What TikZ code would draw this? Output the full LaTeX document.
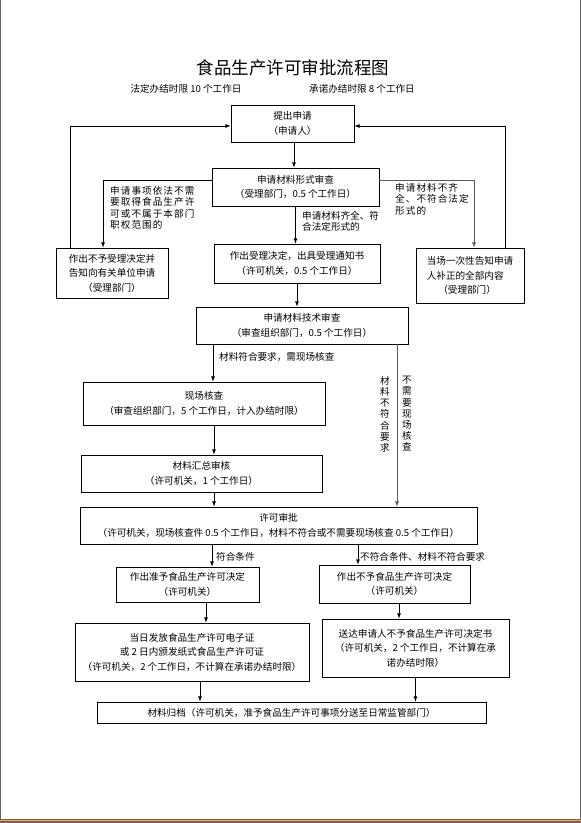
\documentclass[tikz,border=0pt]{standalone}
\usepackage{fontspec}
\setmainfont{Noto Sans CJK SC}
\usetikzlibrary{arrows,positioning,calc}

\begin{document}
\begin{tikzpicture}
  [x=1pt,y=-1pt,>=latex,
   box/.style n args={2}{draw=black, line width=0.8pt, align=center, inner sep=1pt,
     minimum width=#1, minimum height=#2, font=\fontsize{9.6}{14.5}\selectfont},
   lbl/.style={inner sep=0pt, align=left, font=\fontsize{9.6}{11.5}\selectfont},
   wlbl/.style={lbl, font=\fontsize{9.6}{11.5}\selectfont\addfontfeature{LetterSpace=11}},
   vlbl/.style={inner sep=0pt, align=center, font=\fontsize{9.6}{11.2}\selectfont}]
  \useasboundingbox (0,0) rectangle (581,823);
  % page frame
  \draw[black!60, line width=1pt] (0.5,0) -- (0.5,819) -- (580,819) -- (580,0);
  \fill[orange!70] (0,819.6) rectangle (581,821);
  \fill[blue!25!gray] (0,821) rectangle (581,823);

  \node[font=\fontsize{17.5}{20}\selectfont] (title) at (293,68) {食品生产许可审批流程图};
  \node[lbl] (sub1) at (186,89) {法定办结时限 10 个工作日};
  \node[lbl] (sub2) at (362,89) {承诺办结时限 8 个工作日};

  \node[box={123}{37}] (n1) at (292.5,123.5) {提出申请\\（申请人）};
  \node[box={167}{38}] (n2) at (295.5,187) {申请材料形式审查\\（受理部门，0.5 个工作日）};
  \node[box={112}{50}] (n3) at (112,273) {作出不予受理决定并\\告知向有关单位申请\\（受理部门）};
  \node[box={166}{39}] (n4) at (297,263.5) {作出受理决定，出具受理通知书\\（许可机关，0.5 个工作日）};
  \node[box={108}{55}, align=left] (n5) at (470,275.5) {当场一次性告知申请\\人补正的全部内容\\\hspace*{1.2em}（受理部门）};
  \node[box={212}{37}] (n6) at (302,325.5) {申请材料技术审查\\（审查组织部门，0.5 个工作日）};
  \node[box={242}{43}] (n7) at (204,403.5) {现场核查\\（审查组织部门，5 个工作日，计入办结时限）};
  \node[box={241}{37}] (n8) at (201.5,473.5) {材料汇总审核\\（许可机关，1 个工作日）};
  \node[box={397}{37}] (n9) at (278.5,525.5) {许可审批\\（许可机关，现场核查件 0.5 个工作日，材料不符合或不需要现场核查 0.5 个工作日）};
  \node[box={143}{35}] (n10) at (187.5,584.5) {作出准予食品生产许可决定\\（许可机关）};
  \node[box={151}{38}] (n11) at (394.5,584) {作出不予食品生产许可决定\\（许可机关）};
  \node[box={234}{58}] (n12) at (192,652) {当日发放食品生产许可电子证\\或 2 日内颁发纸式食品生产许可证\\（许可机关，2 个工作日，不计算在承诺办结时限）};
  \node[box={187}{58}] (n13) at (415.5,648) {送达申请人不予食品生产许可决定书\\（许可机关，2 个工作日，不计算在承\\诺办结时限）};
  \node[box={389}{21}] (n14) at (291.5,712.5) {材料归档（许可机关，准予食品生产许可事项分送至日常监管部门）};

  % branch labels
  \node[wlbl, anchor=north west] (l1) at (110,186) {申请事项依法不需\\要取得食品生产许\\可或不属于本部门\\职权范围的};
  \node[wlbl, anchor=north west] (l2) at (395,183) {申请材料不齐\\全、不符合法定\\形式的};
  \node[lbl, anchor=north west] (l3) at (302,211) {申请材料齐全、符\\合法定形式的};
  \node[lbl, anchor=west] (l4) at (219,357) {材料符合要求，需现场核查};
  \node[vlbl, anchor=north] (l5) at (385,376) {材\\料\\不\\符\\合\\要\\求};
  \node[vlbl, anchor=north] (l6) at (407,376) {不\\需\\要\\现\\场\\核\\查};
  \node[lbl, anchor=west] (l7) at (216,557) {符合条件};
  \node[lbl, anchor=west] (l8) at (360,557) {不符合条件、材料不符合要求};

  \path [->] [line width=0.8pt]
  ([xshift=1.5]n1.south) edge ([xshift=1.5]n1.south |- n2.north)
  (n2.south) edge (n2.south |- n4.north)
  (n4.south) edge (n4.south |- n6.north)
  ([xshift=-89]n6.south) edge ([xshift=-89]n6.south |- n7.north)
  ([xshift=10]n7.south) edge ([xshift=10]n7.south |- n8.north)
  ([xshift=12.5]n8.south) edge ([xshift=12.5]n8.south |- n9.north)
  ([xshift=-66.5]n9.south) edge ([xshift=-66.5]n9.south |- n10.north)
  ([xshift=79.5]n9.south) edge ([xshift=79.5]n9.south |- n11.north)
  ([xshift=18.5]n10.south) edge ([xshift=18.5]n10.south |- n12.north)
  ([xshift=4.5]n11.south) edge ([xshift=4.5]n11.south |- n13.north)
  ([xshift=8]n12.south) edge ([xshift=8]n12.south |- n14.north)
  (n13.south) edge (n13.south |- n14.north);

  \draw[->, line width=0.8pt, black!65] ([xshift=95]n6.south) -- ([xshift=95]n6.south |- n9.north);
  \draw[->, line width=0.8pt] ([yshift=7]n2.west) -| ([xshift=-9]n3.north);
  \draw[->, line width=0.8pt, black!65] ([yshift=7]n2.east) -| ([xshift=4]n5.north);
  \draw[->, line width=0.8pt] ([xshift=-42]n3.north) |- ([yshift=-2.5]n1.west);
  \draw[->, line width=0.8pt] ([xshift=35]n5.north) |- ([yshift=-2.5]n1.east);

\end{tikzpicture}
\end{document}
